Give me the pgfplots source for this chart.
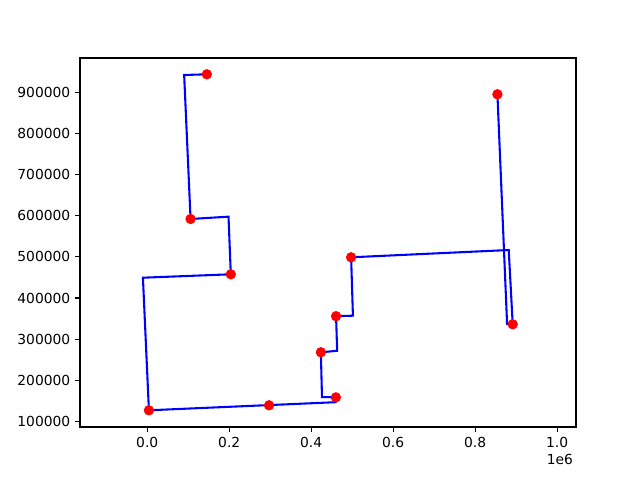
\documentclass[border=0pt]{standalone}
\usepackage{pgfplots}
\pgfplotsset{compat=1.18}
\usepackage{fontspec}
\setmainfont{DejaVu Sans}

\begin{document}
\begin{tikzpicture}
\path[use as bounding box] (-0.80in,-0.53in) rectangle (5.60in,4.27in);
\begin{axis}[
    at={(0,0)}, anchor=south west,
    scale only axis,
    width=4.96in, height=3.69in,
    xmin=-164000, xmax=1046000,
    ymin=86600, ymax=983300,
    xtick={0,200000,400000,600000,800000,1000000},
    xticklabels={0.0,0.2,0.4,0.6,0.8,1.0},
    ytick={100000,200000,...,900000},
    scaled ticks=false,
    /pgf/number format/fixed,
    /pgf/number format/1000 sep={},
    /pgf/number format/assume math mode=true,
    tick pos=left,
    tick align=outside,
    major tick length=3.5pt,
    every tick/.style={black, line width=0.8pt},
    axis line style={line width=0.8pt},
    ticklabel style={font=\fontsize{10}{12}\selectfont},
    clip=false,
]
% red points
\addplot[only marks, mark=*, mark size=3.5pt, color=red, mark options={draw=red, fill=red}]
    coordinates {
    (145400,943700) (105700,592100) (203900,457700) (4100,127200)
    (297200,139400) (460200,158600) (423600,268200) (460700,355900)
    (497400,499000) (854300,895100) (891600,336200)
    };
% blue route
\addplot[blue, line width=1.5pt, line join=miter]
    coordinates {
    (145400,943700) (90100,942000) (105700,592100) (198300,597700)
    (203900,457700) (-10500,449400) (4100,127200) (459700,146900)
    (460200,158600) (426300,159500) (423600,268200) (463300,271800)
    (460700,355900) (501800,357100) (497400,499000) (881900,516700)
    (891600,336200) (877900,336900) (854300,895100)
    };
\node[anchor=north east, inner sep=0pt, font=\fontsize{10}{12}\selectfont]
    at ([xshift=-2pt,yshift=-0.27in]rel axis cs:1,0) {1e6};
\end{axis}
\end{tikzpicture}
\end{document}
